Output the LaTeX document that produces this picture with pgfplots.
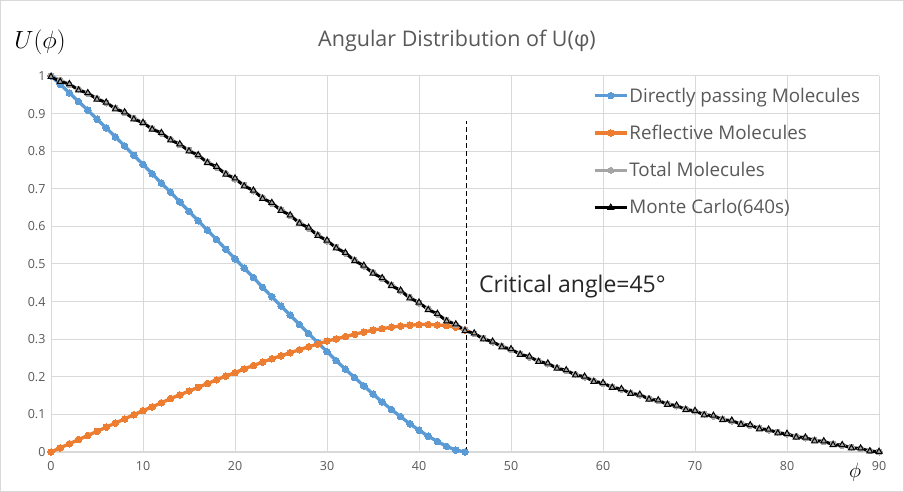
\documentclass[border=0pt]{standalone}
\usepackage{fontspec}
\setmainfont{Open Sans}
\usepackage{pgfplots}
\usepackage{pgfplotstable}
\pgfplotsset{compat=1.18}
\definecolor{cblue}{HTML}{5B9BD5}
\definecolor{corange}{HTML}{ED7D31}
\definecolor{cgray}{HTML}{A5A5A5}
\definecolor{ctext}{HTML}{595959}
\definecolor{cgrid}{HTML}{D9D9D9}

\pgfplotstableread{
x y
0 1.000
1 0.978
2 0.955
3 0.932
4 0.909
5 0.885
6 0.862
7 0.838
8 0.814
9 0.789
10 0.765
11 0.740
12 0.715
13 0.691
14 0.665
15 0.640
16 0.615
17 0.590
18 0.565
19 0.539
20 0.514
21 0.489
22 0.464
23 0.438
24 0.413
25 0.388
26 0.364
27 0.339
28 0.315
29 0.291
30 0.267
31 0.243
32 0.220
33 0.198
34 0.176
35 0.154
36 0.133
37 0.113
38 0.094
39 0.075
40 0.058
41 0.042
42 0.028
43 0.015
44 0.005
45 0.000
}\direct

\pgfplotstableread{
x y
0 0.000
1 0.011
2 0.022
3 0.033
4 0.044
5 0.055
6 0.066
7 0.077
8 0.088
9 0.099
10 0.110
11 0.120
12 0.131
13 0.142
14 0.152
15 0.162
16 0.172
17 0.182
18 0.192
19 0.202
20 0.211
21 0.221
22 0.230
23 0.239
24 0.248
25 0.256
26 0.264
27 0.272
28 0.280
29 0.287
30 0.295
31 0.301
32 0.307
33 0.313
34 0.319
35 0.324
36 0.328
37 0.332
38 0.335
39 0.337
40 0.339
41 0.339
42 0.338
43 0.336
44 0.332
45 0.325
}\reflect

\pgfplotstableread{
x y
0 1.000
1 0.989
2 0.977
3 0.965
4 0.953
5 0.941
6 0.928
7 0.915
8 0.902
9 0.888
10 0.875
11 0.861
12 0.847
13 0.832
14 0.817
15 0.803
16 0.788
17 0.772
18 0.757
19 0.741
20 0.726
21 0.710
22 0.694
23 0.677
24 0.661
25 0.645
26 0.628
27 0.611
28 0.595
29 0.578
30 0.561
31 0.545
32 0.528
33 0.511
34 0.494
35 0.478
36 0.461
37 0.445
38 0.428
39 0.412
40 0.396
41 0.381
42 0.366
43 0.351
44 0.338
45 0.325
46 0.314
47 0.303
48 0.292
49 0.282
50 0.272
51 0.262
52 0.252
53 0.243
54 0.234
55 0.225
56 0.216
57 0.207
58 0.199
59 0.190
60 0.182
61 0.174
62 0.166
63 0.158
64 0.151
65 0.143
66 0.136
67 0.129
68 0.122
69 0.115
70 0.108
71 0.101
72 0.095
73 0.088
74 0.082
75 0.076
76 0.070
77 0.064
78 0.058
79 0.053
80 0.047
81 0.042
82 0.037
83 0.032
84 0.027
85 0.022
86 0.017
87 0.013
88 0.008
89 0.004
90 0.000
}\total

\pgfplotstableread{
x y
0 0.998
1 0.985
2 0.979
3 0.962
4 0.955
5 0.938
6 0.930
7 0.912
8 0.904
9 0.885
10 0.876
11 0.858
12 0.849
13 0.829
14 0.819
15 0.800
16 0.790
17 0.769
18 0.759
19 0.738
20 0.728
21 0.707
22 0.696
23 0.674
24 0.663
25 0.642
26 0.630
27 0.608
28 0.597
29 0.575
30 0.563
31 0.542
32 0.530
33 0.508
34 0.496
35 0.475
36 0.463
37 0.442
38 0.430
39 0.409
40 0.398
41 0.378
42 0.368
43 0.348
44 0.340
45 0.322
46 0.316
47 0.300
48 0.294
49 0.279
50 0.274
51 0.259
52 0.254
53 0.240
54 0.236
55 0.222
56 0.218
57 0.204
58 0.201
59 0.187
60 0.184
61 0.171
62 0.168
63 0.155
64 0.153
65 0.140
66 0.138
67 0.126
68 0.124
69 0.112
70 0.110
71 0.098
72 0.097
73 0.085
74 0.084
75 0.073
76 0.072
77 0.061
78 0.060
79 0.050
80 0.049
81 0.039
82 0.039
83 0.029
84 0.029
85 0.019
86 0.019
87 0.010
88 0.010
89 0.002
90 0.001
}\monte

\begin{document}
\begin{tikzpicture}[x=1pt,y=1pt]
\draw[draw=cgrid, line width=1pt, fill=white] (0.5,0.5) rectangle (903.5,491.5);
\begin{axis}[
  at={(51pt,40pt)}, anchor=south west,
  scale only axis, width=828pt, height=376pt,
  xmin=0, xmax=90, ymin=0, ymax=1,
  xtick={0,10,...,90},
  ytick={0,0.1,0.2,0.3,0.4,0.5,0.6,0.7,0.8,0.9,1},
  yticklabels={0,0.1,0.2,0.3,0.4,0.5,0.6,0.7,0.8,0.9,1},
  grid=major,
  grid style={draw=cgrid, line width=1pt},
  axis line style={draw=none},
  tick style={draw=none},
  /pgf/number format/assume math mode=true,
  ticklabel style={font=\fontsize{12.5}{12.5}\selectfont, text=ctext},
  xticklabel style={yshift=-6pt},
  yticklabel style={xshift=-2pt},
  clip=false,
  legend style={at={(axis cs:58.9,0.972)}, anchor=north west, draw=none, fill=none,
    font=\fontsize{18.8}{18.8}\selectfont, text=ctext, row sep=19.5pt,
    inner sep=0pt, nodes={inner sep=1pt}},
  legend cell align=left,
  legend image code/.code={\draw[mark repeat=2,mark phase=2] plot coordinates {(0pt,0pt) (16pt,0pt) (32pt,0pt)};},
]
\addplot[cblue, line width=3.3pt, mark=*, mark size=3.3pt, mark options={line width=0pt}] table {\direct};
\addlegendentry{Directly passing Molecules}
\addplot[corange, line width=3.3pt, mark=*, mark size=3.3pt, mark options={line width=0pt}] table {\reflect};
\addlegendentry{Reflective Molecules}
\addplot[cgray, line width=3.3pt, mark=*, mark size=3pt, mark options={line width=0pt}] table {\total};
\addlegendentry{Total Molecules}
\addplot[black, line width=2.8pt, mark=triangle, mark size=3.4pt, mark options={line width=1pt, fill=white}] table {\monte};
\addlegendentry{Monte Carlo(640s)}
\draw[black, line width=1.2pt, dash pattern=on 5pt off 3pt] (axis cs:45.2,0) -- (axis cs:45.2,0.88);
\node[anchor=base west, font=\fontsize{23}{23}\selectfont, text=black!85, inner sep=0pt] at (axis cs:46.5,0.4255) {Critical angle=45°};
\end{axis}
\node[font=\fontsize{21.5}{21.5}\selectfont, text=ctext] at (457,451) {Angular Distribution of U(φ)};
\node[font=\fontsize{23}{23}\selectfont] at (40,450) {$U(\phi)$};
\node[font=\fontsize{22}{22}\selectfont] at (855,20) {$\phi$};
\end{tikzpicture}
\end{document}
